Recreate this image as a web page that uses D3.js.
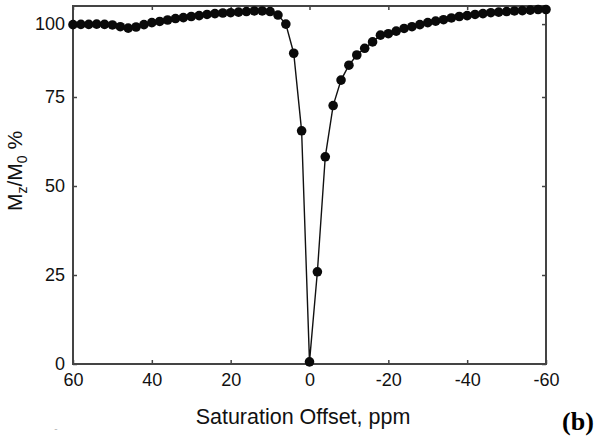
<!DOCTYPE html>
<html lang="en">
  <head>
    <meta charset="utf-8" />
    <title>Z-spectrum</title>
    <style>
      body {
        margin: 0;
        background: #fff;
      }
      svg {
        display: block;
      }
      .tick text {
        font-family: 'Liberation Sans', Arial, sans-serif;
      }
    </style>
  </head>
  <body>
    <div class="container"></div>
    <script src="https://cdn.jsdelivr.net/npm/d3@7"></script>
    <script>
      // saturation offsets (ppm) and Mz/M0 (%)
      const offsets = [
        60, 58, 56, 54, 52, 50, 48, 46, 44, 42, 40, 38, 36, 34, 32, 30, 28, 26,
        24, 22, 20, 18, 16, 14, 12, 10, 8, 6, 4, 2, 0, -2, -4, -6, -8, -10, -12,
        -14, -16, -18, -20, -22, -24, -26, -28, -30, -32, -34, -36, -38, -40,
        -42, -44, -46, -48, -50, -52, -54, -56, -58, -60,
      ];
      const mzm0 = [
        99.8, 99.9, 99.9, 100.0, 99.9, 99.7, 99.1, 98.6, 99.0, 99.8, 100.5,
        100.9, 101.4, 101.9, 102.2, 102.6, 102.9, 103.3, 103.6, 103.8, 103.9,
        104.1, 104.3, 104.5, 104.5, 104.3, 103.1, 100.0, 90.0, 65.5, 0.6, 25.9,
        58.2, 72.6, 80.8, 85.9, 89.4, 91.7, 93.9, 96.2, 96.7, 97.6, 98.5, 99.1,
        99.8, 100.5, 101.0, 101.5, 102.1, 102.6, 102.9, 103.3, 103.6, 103.9,
        104.1, 104.3, 104.5, 104.6, 104.8, 105.0, 105.0,
      ];
      const xTicks = [60, 40, 20, 0, -20, -40, -60];
      const yTicks = [0, 25, 50, 75, 100];

      const width = 602;
      const height = 442;
      const svg = d3
        .select('div.container')
        .append('svg')
        .attr('width', width)
        .attr('height', height);

      const x = d3.scaleLinear().domain([60, -60]).range([73, 546]);
      // the printed axis is not evenly spaced near the top
      const y = d3.scaleLinear().domain([0, 75, 106.2]).range([364, 97, 6]);

      const axisColor = '#444';
      const fontSize = '18px';
      const plain = (d) => String(d); // hyphen minus, like the original

      // box
      svg
        .append('rect')
        .attr('x', x(60))
        .attr('y', y(106.2))
        .attr('width', x(-60) - x(60))
        .attr('height', y(0) - y(106.2))
        .attr('fill', 'none')
        .attr('stroke', axisColor)
        .attr('stroke-width', 2);

      function styleAxis(g) {
        g.select('.domain').remove();
        g.selectAll('.tick line').attr('stroke', axisColor).attr('stroke-width', 1.5);
        g.selectAll('.tick text').attr('fill', '#111').style('font-size', fontSize);
      }

      svg
        .append('g')
        .attr('transform', `translate(0,${y(0)})`)
        .call(d3.axisBottom(x).tickValues(xTicks).tickSize(-4).tickPadding(9).tickFormat(plain))
        .call(styleAxis);
      svg
        .append('g')
        .attr('transform', `translate(0,${y(106.2)})`)
        .call(d3.axisTop(x).tickValues(xTicks).tickSize(-4).tickFormat(''))
        .call(styleAxis);
      svg
        .append('g')
        .attr('transform', `translate(${x(60)},0)`)
        .call(d3.axisLeft(y).tickValues(yTicks).tickSize(-4).tickPadding(8).tickFormat(plain))
        .call(styleAxis);
      svg
        .append('g')
        .attr('transform', `translate(${x(-60)},0)`)
        .call(d3.axisRight(y).tickValues(yTicks).tickSize(-4).tickFormat(''))
        .call(styleAxis);

      const pts = offsets.map((o, i) => [o, mzm0[i]]);

      svg
        .append('path')
        .datum(pts)
        .attr('fill', 'none')
        .attr('stroke', '#111')
        .attr('stroke-width', 1.4)
        .attr(
          'd',
          d3
            .line()
            .x((d) => x(d[0]))
            .y((d) => y(d[1])),
        );

      svg
        .append('g')
        .selectAll('circle')
        .data(pts)
        .join('circle')
        .attr('cx', (d) => x(d[0]))
        .attr('cy', (d) => y(d[1]))
        .attr('r', 4.8)
        .attr('fill', '#0a0a0a');

      // titles
      svg
        .append('text')
        .attr('x', 303)
        .attr('y', 424)
        .attr('text-anchor', 'middle')
        .style('font-family', "'Liberation Sans', Arial, sans-serif")
        .style('font-size', '21.5px')
        .attr('fill', '#111')
        .text('Saturation Offset, ppm');

      const yl = svg
        .append('text')
        .attr('transform', 'translate(22,171) rotate(-90)')
        .attr('text-anchor', 'middle')
        .style('font-family', "'Liberation Sans', Arial, sans-serif")
        .style('font-size', '21px')
        .attr('fill', '#111');
      yl.append('tspan').text('M');
      yl.append('tspan').attr('dy', 5).style('font-size', '14px').text('z');
      yl.append('tspan').attr('dy', -5).text('/M');
      yl.append('tspan').attr('dy', 5).style('font-size', '14px').text('0');
      yl.append('tspan').attr('dy', -5).text(' %');

      svg
        .append('text')
        .attr('x', 578)
        .attr('y', 430)
        .attr('text-anchor', 'middle')
        .style('font-family', "'Liberation Serif', 'Times New Roman', serif")
        .style('font-weight', 'bold')
        .style('font-size', '26px')
        .attr('fill', '#000')
        .text('(b)');

      svg
        .append('text')
        .attr('x', 56)
        .attr('y', 432)
        .attr('text-anchor', 'middle')
        .style('font-family', "'Liberation Sans', Arial, sans-serif")
        .style('font-size', '10px')
        .attr('fill', '#bbb')
        .text('-');
    </script>
  </body>
</html>
